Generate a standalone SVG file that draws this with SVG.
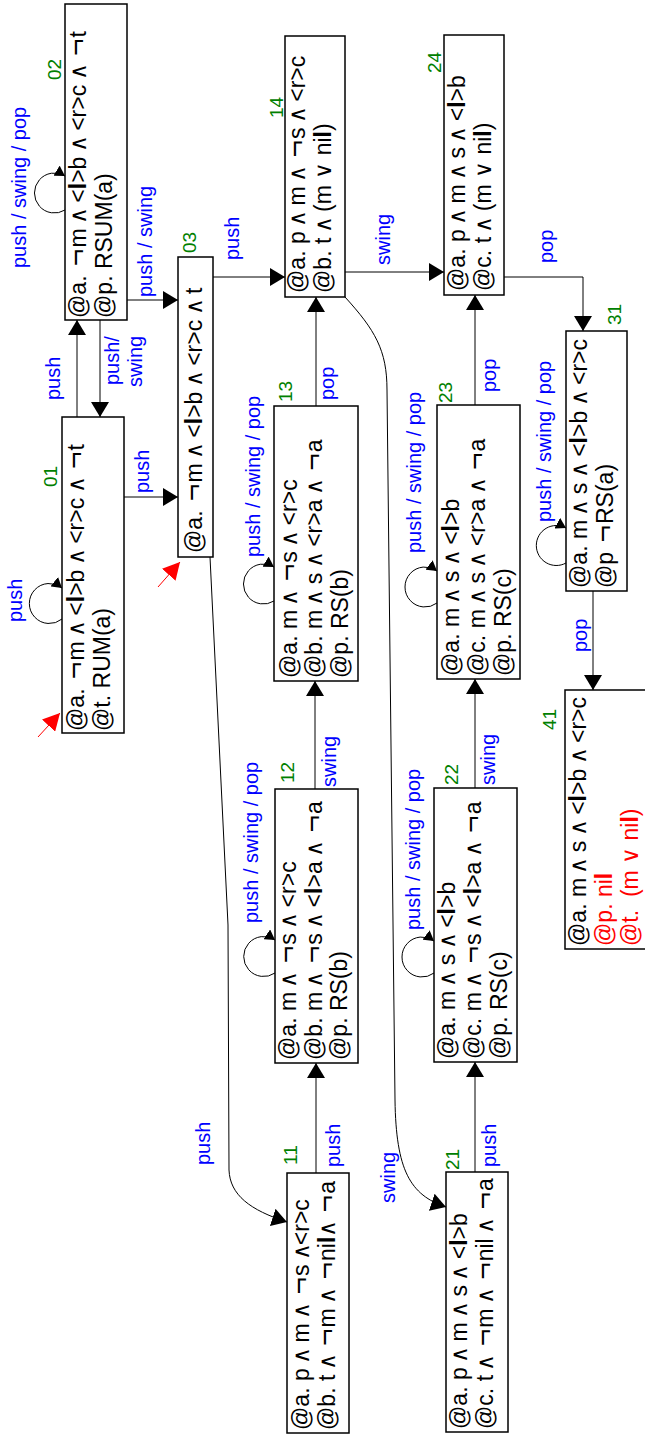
<svg xmlns="http://www.w3.org/2000/svg" width="645" height="1437" viewBox="0 0 645 1437">
<style>
.box{fill:#fff;stroke:#000;stroke-width:1.5}
.t{font-family:"Liberation Sans",Arial,sans-serif;font-size:23px;fill:#000}
.r{fill:#ff0000}
.n{font-family:"Liberation Sans",Arial,sans-serif;font-size:19px;fill:#008000}
.l{font-family:"Liberation Sans",Arial,sans-serif;font-size:20px;fill:#0000ff}
.e{fill:none;stroke:#000;stroke-width:1}
.b{font-weight:bold}
.w{letter-spacing:-2px}
.g{font-size:30px;letter-spacing:1px}
</style>
<defs>
<marker id="arr" markerUnits="userSpaceOnUse" markerWidth="16" markerHeight="18" viewBox="0 0 16 18" refX="15" refY="9" orient="auto"><path d="M0,0 L15,9 L0,18 z" fill="#000"/></marker>
<marker id="sarr" markerUnits="userSpaceOnUse" markerWidth="11" markerHeight="12" viewBox="0 0 11 12" refX="10" refY="6" orient="auto"><path d="M0,0 L10,6 L0,12 z" fill="#000"/></marker>
<marker id="rarr" markerUnits="userSpaceOnUse" markerWidth="18" markerHeight="18" viewBox="0 0 18 18" refX="17" refY="9" orient="auto"><path d="M0,0 L17,9 L0,18 z" fill="#ff0000"/></marker>
</defs>

<g id="connectors">
<path class="e" d="M77,417 L77,320" marker-end="url(#arr)"/>
<path class="e" d="M100,320 L100,417" marker-end="url(#arr)"/>
<path class="e" d="M127,300 L178,300" marker-end="url(#arr)"/>
<path class="e" d="M124,497 L178,497" marker-end="url(#arr)"/>
<path class="e" d="M213,277 L285,277" marker-end="url(#arr)"/>
<path class="e" d="M345,272 L444,272" marker-end="url(#arr)"/>
<path class="e" d="M504,277 L583,277 L583,331" marker-end="url(#arr)"/>
<path class="e" d="M316,406 L316,297" marker-end="url(#arr)"/>
<path class="e" d="M475,405 L475,295" marker-end="url(#arr)"/>
<path class="e" d="M593,591 L593,690" marker-end="url(#arr)"/>
<path class="e" d="M315,789 L315,681" marker-end="url(#arr)"/>
<path class="e" d="M475,788 L475,679" marker-end="url(#arr)"/>
<path class="e" d="M316,1173 L316,1063" marker-end="url(#arr)"/>
<path class="e" d="M475,1172 L475,1062" marker-end="url(#arr)"/>
<path class="e" d="M210,557 L228,925 L229,1170 C230,1195 250,1210 287,1222" marker-end="url(#arr)"/>
<path class="e" d="M345,297 C375,330 387,350 387,390 L395,1100 C396,1170 410,1195 446,1207" marker-end="url(#arr)"/>
<path class="e" d="M65,210 A20,20 0 1 1 65,176" marker-end="url(#sarr)"/>
<path class="e" d="M62,619 A20,20 0 1 1 62,588" marker-end="url(#sarr)"/>
<path class="e" d="M274,601 A20,20 0 1 1 274,567" marker-end="url(#sarr)"/>
<path class="e" d="M437,603 A20,20 0 1 1 437,571" marker-end="url(#sarr)"/>
<path class="e" d="M566,563 A20,20 0 1 1 566,528" marker-end="url(#sarr)"/>
<path class="e" d="M275,973 A20,20 0 1 1 275,940" marker-end="url(#sarr)"/>
<path class="e" d="M434,973 A20,20 0 1 1 434,941" marker-end="url(#sarr)"/>
<path d="M38,737 L60,713" stroke="#ff0000" stroke-width="1" marker-end="url(#rarr)"/>
<path d="M158,587 L180,562" stroke="#ff0000" stroke-width="1" marker-end="url(#rarr)"/>
<text class="l" x="26" y="268" transform="rotate(-90 26 268)">push / swing / pop</text>
<text class="l" x="60" y="400" transform="rotate(-90 60 400)">push</text>
<text class="l" x="119" y="385" transform="rotate(-90 119 385)">push/</text>
<text class="l" x="142" y="387" transform="rotate(-90 142 387)">swing</text>
<text class="l" x="152" y="297" transform="rotate(-90 152 297)">push / swing</text>
<text class="l" x="149" y="493" transform="rotate(-90 149 493)">push</text>
<text class="l" x="22" y="622" transform="rotate(-90 22 622)">push</text>
<text class="l" x="239" y="260" transform="rotate(-90 239 260)">push</text>
<text class="l" x="390" y="265" transform="rotate(-90 390 265)">swing</text>
<text class="l" x="553" y="263" transform="rotate(-90 553 263)">pop</text>
<text class="l" x="334" y="400" transform="rotate(-90 334 400)">pop</text>
<text class="l" x="496" y="392" transform="rotate(-90 496 392)">pop</text>
<text class="l" x="260" y="557" transform="rotate(-90 260 557)">push / swing / pop</text>
<text class="l" x="421" y="553" transform="rotate(-90 421 553)">push / swing / pop</text>
<text class="l" x="551" y="522" transform="rotate(-90 551 522)">push / swing / pop</text>
<text class="l" x="587" y="652" transform="rotate(-90 587 652)">pop</text>
<text class="l" x="258" y="923" transform="rotate(-90 258 923)">push / swing / pop</text>
<text class="l" x="336" y="787" transform="rotate(-90 336 787)">swing</text>
<text class="l" x="420" y="930" transform="rotate(-90 420 930)">push / swing / pop</text>
<text class="l" x="495" y="785" transform="rotate(-90 495 785)">swing</text>
<text class="l" x="340" y="1167" transform="rotate(-90 340 1167)">push</text>
<text class="l" x="210" y="1165" transform="rotate(-90 210 1165)">push</text>
<text class="l" x="496" y="1167" transform="rotate(-90 496 1167)">push</text>
<text class="l" x="395" y="1203" transform="rotate(-90 395 1203)">swing</text>
</g>

<g id="n02">
<rect class="box" x="65" y="4" width="62" height="316"/>
<text class="n" x="61" y="80" transform="rotate(-90 61 80)">02</text>
<text class="t" x="86" y="318" transform="rotate(-90 86 318)">@a.<tspan class="g"> ¬</tspan>m<tspan class="w"> ∧</tspan> &lt;<tspan class="b">l</tspan>&gt;b<tspan class="w"> ∧</tspan> &lt;r&gt;c<tspan class="w"> ∧</tspan><tspan class="g"> ¬</tspan>t</text>
<text class="t" x="112" y="318" transform="rotate(-90 112 318)">@p. RSUM(a)</text>
</g>
<g id="n01">
<rect class="box" x="62" y="417" width="62" height="316"/>
<text class="n" x="57" y="487" transform="rotate(-90 57 487)">01</text>
<text class="t" x="84" y="731" transform="rotate(-90 84 731)">@a.<tspan class="g"> ¬</tspan>m<tspan class="w"> ∧</tspan> &lt;<tspan class="b">l</tspan>&gt;b<tspan class="w"> ∧</tspan> &lt;r&gt;c<tspan class="w"> ∧</tspan><tspan class="g"> ¬</tspan>t</text>
<text class="t" x="110" y="731" transform="rotate(-90 110 731)">@t. RUM(a)</text>
</g>
<g id="n03">
<rect class="box" x="178" y="257" width="35" height="300"/>
<text class="n" x="196" y="253" transform="rotate(-90 196 253)">03</text>
<text class="t" x="202" y="553" transform="rotate(-90 202 553)">@a.<tspan class="g"> ¬</tspan>m<tspan class="w"> ∧</tspan> &lt;<tspan class="b">l</tspan>&gt;b<tspan class="w"> ∧</tspan> &lt;r&gt;c<tspan class="w"> ∧</tspan> t</text>
</g>
<g id="n14">
<rect class="box" x="285" y="36" width="60" height="261"/>
<text class="n" x="283" y="118" transform="rotate(-90 283 118)">14</text>
<text class="t" x="305" y="293" transform="rotate(-90 305 293)">@a. p<tspan class="w"> ∧</tspan> m<tspan class="w"> ∧</tspan><tspan class="g"> ¬</tspan>s<tspan class="w"> ∧</tspan> &lt;r&gt;c</text>
<text class="t" x="331" y="293" transform="rotate(-90 331 293)">@b. t<tspan class="w"> ∧</tspan> (m ∨ ni<tspan class="b">l</tspan>)</text>
</g>
<g id="n24">
<rect class="box" x="444" y="35" width="60" height="260"/>
<text class="n" x="441" y="73" transform="rotate(-90 441 73)">24</text>
<text class="t" x="465" y="291" transform="rotate(-90 465 291)">@a. p<tspan class="w"> ∧</tspan> m<tspan class="w"> ∧</tspan> s<tspan class="w"> ∧</tspan> &lt;<tspan class="b">l</tspan>&gt;b</text>
<text class="t" x="491" y="291" transform="rotate(-90 491 291)">@c. t<tspan class="w"> ∧</tspan> (m ∨ ni<tspan class="b">l</tspan>)</text>
</g>
<g id="n31">
<rect class="box" x="566" y="331" width="61" height="260"/>
<text class="n" x="621" y="325" transform="rotate(-90 621 325)">31</text>
<text class="t" x="587" y="588" transform="rotate(-90 587 588)">@a. m<tspan class="w"> ∧</tspan> s<tspan class="w"> ∧</tspan> &lt;<tspan class="b">l</tspan>&gt;b<tspan class="w"> ∧</tspan> &lt;r&gt;c</text>
<text class="t" x="613" y="588" transform="rotate(-90 613 588)">@p<tspan class="g"> ¬</tspan>RS(a)</text>
</g>
<g id="n41">
<rect class="box" x="565" y="690" width="82" height="259"/>
<text class="n" x="556" y="730" transform="rotate(-90 556 730)">41</text>
<text class="t" x="586" y="946" transform="rotate(-90 586 946)">@a. m<tspan class="w"> ∧</tspan> s<tspan class="w"> ∧</tspan> &lt;<tspan class="b">l</tspan>&gt;b<tspan class="w"> ∧</tspan> &lt;r&gt;c</text>
<text class="t r" x="612" y="946" transform="rotate(-90 612 946)">@p. ni<tspan class="b">l</tspan></text>
<text class="t r" x="638" y="946" transform="rotate(-90 638 946)">@t. &#160;(m ∨ ni<tspan class="b">l</tspan>)</text>
</g>
<g id="n13">
<rect class="box" x="274" y="406" width="84" height="275"/>
<text class="n" x="292" y="402" transform="rotate(-90 292 402)">13</text>
<text class="t" x="297" y="678" transform="rotate(-90 297 678)">@a. m<tspan class="w"> ∧</tspan><tspan class="g"> ¬</tspan>s<tspan class="w"> ∧</tspan> &lt;r&gt;c</text>
<text class="t" x="322" y="678" transform="rotate(-90 322 678)">@b. m<tspan class="w"> ∧</tspan> s<tspan class="w"> ∧</tspan> &lt;r&gt;a<tspan class="w"> ∧</tspan><tspan class="g"> ¬</tspan>a</text>
<text class="t" x="348" y="678" transform="rotate(-90 348 678)">@p. RS(b)</text>
</g>
<g id="n23">
<rect class="box" x="437" y="405" width="83" height="274"/>
<text class="n" x="452" y="403" transform="rotate(-90 452 403)">23</text>
<text class="t" x="459" y="676" transform="rotate(-90 459 676)">@a. m<tspan class="w"> ∧</tspan> s<tspan class="w"> ∧</tspan> &lt;<tspan class="b">l</tspan>&gt;b</text>
<text class="t" x="485" y="676" transform="rotate(-90 485 676)">@c. m<tspan class="w"> ∧</tspan> s<tspan class="w"> ∧</tspan> &lt;r&gt;a<tspan class="w"> ∧</tspan><tspan class="g"> ¬</tspan>a</text>
<text class="t" x="511" y="676" transform="rotate(-90 511 676)">@p. RS(c)</text>
</g>
<g id="n12">
<rect class="box" x="275" y="789" width="83" height="274"/>
<text class="n" x="294" y="783" transform="rotate(-90 294 783)">12</text>
<text class="t" x="296" y="1060" transform="rotate(-90 296 1060)">@a. m<tspan class="w"> ∧</tspan><tspan class="g"> ¬</tspan>s<tspan class="w"> ∧</tspan> &lt;r&gt;c</text>
<text class="t" x="322" y="1060" transform="rotate(-90 322 1060)">@b. m<tspan class="w"> ∧</tspan><tspan class="g"> ¬</tspan>s<tspan class="w"> ∧</tspan> &lt;<tspan class="b">l</tspan>&gt;a<tspan class="w"> ∧</tspan><tspan class="g"> ¬</tspan>a</text>
<text class="t" x="347" y="1060" transform="rotate(-90 347 1060)">@p. RS(b)</text>
</g>
<g id="n22">
<rect class="box" x="434" y="788" width="83" height="274"/>
<text class="n" x="458" y="785" transform="rotate(-90 458 785)">22</text>
<text class="t" x="455" y="1059" transform="rotate(-90 455 1059)">@a. m<tspan class="w"> ∧</tspan> s<tspan class="w"> ∧</tspan> &lt;<tspan class="b">l</tspan>&gt;b</text>
<text class="t" x="481" y="1059" transform="rotate(-90 481 1059)">@c. m<tspan class="w"> ∧</tspan><tspan class="g"> ¬</tspan>s<tspan class="w"> ∧</tspan> &lt;<tspan class="b">l</tspan>&gt;a<tspan class="w"> ∧</tspan><tspan class="g"> ¬</tspan>a</text>
<text class="t" x="507" y="1059" transform="rotate(-90 507 1059)">@p. RS(c)</text>
</g>
<g id="n11">
<rect class="box" x="287" y="1173" width="62" height="260"/>
<text class="n" x="297" y="1165" transform="rotate(-90 297 1165)">11</text>
<text class="t" x="309" y="1430" transform="rotate(-90 309 1430)">@a. p<tspan class="w"> ∧</tspan> m<tspan class="w"> ∧</tspan><tspan class="g"> ¬</tspan>s<tspan class="w"> ∧</tspan>&lt;r&gt;c</text>
<text class="t" x="335" y="1430" transform="rotate(-90 335 1430)">@b. t<tspan class="w"> ∧</tspan><tspan class="g"> ¬</tspan>m<tspan class="w"> ∧</tspan><tspan class="g"> ¬</tspan>ni<tspan class="b">l</tspan><tspan class="w">∧</tspan><tspan class="g"> ¬</tspan>a</text>
</g>
<g id="n21">
<rect class="box" x="446" y="1172" width="62" height="260"/>
<text class="n" x="459" y="1170" transform="rotate(-90 459 1170)">21</text>
<text class="t" x="467" y="1429" transform="rotate(-90 467 1429)">@a. p<tspan class="w"> ∧</tspan> m<tspan class="w"> ∧</tspan> s<tspan class="w"> ∧</tspan> &lt;<tspan class="b">l</tspan>&gt;b</text>
<text class="t" x="493" y="1429" transform="rotate(-90 493 1429)">@c. t<tspan class="w"> ∧</tspan><tspan class="g"> ¬</tspan>m<tspan class="w"> ∧</tspan><tspan class="g"> ¬</tspan>nil<tspan class="w"> ∧</tspan><tspan class="g"> ¬</tspan>a</text>
</g>
</svg>
